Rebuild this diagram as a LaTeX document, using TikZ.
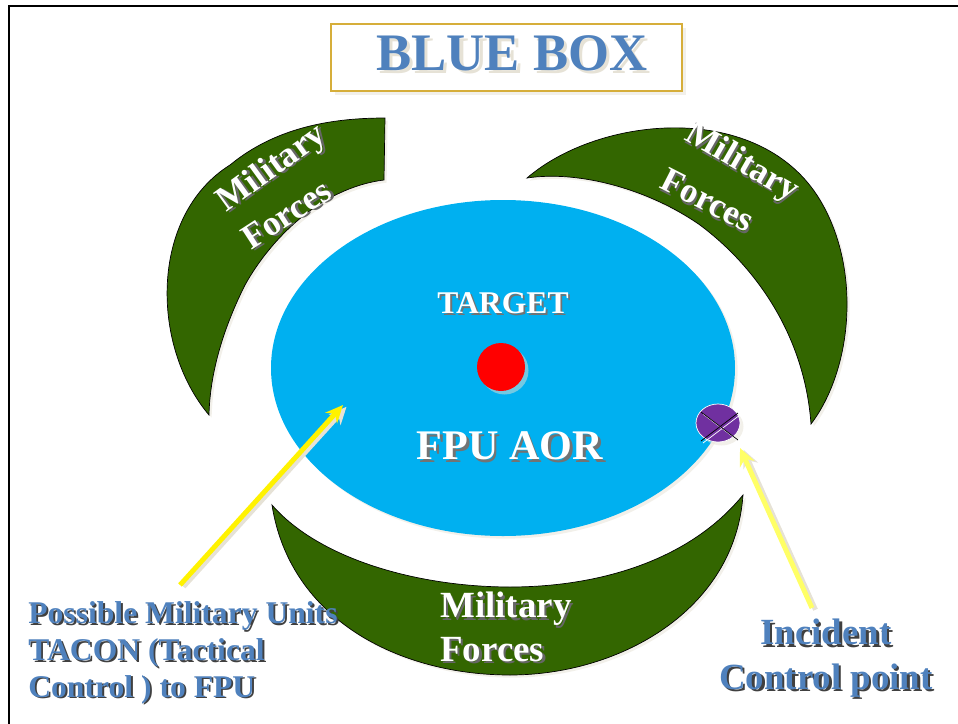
\documentclass[tikz,border=0pt]{standalone}
\usepackage{fontspec}
\setmainfont{Liberation Serif}
\usetikzlibrary{arrows.meta,shadows}

\definecolor{armygreen}{HTML}{336600}
\definecolor{aorblue}{HTML}{00B0F0}
\definecolor{titleblue}{HTML}{4F81BD}
\definecolor{boxgold}{HTML}{D6AE3A}
\definecolor{icpviolet}{HTML}{7030A0}
\definecolor{paleyellow}{HTML}{FFFF66}
\definecolor{shadebeige}{HTML}{E6E2D6}

% text with a small shadow behind it
\newcommand{\shtxt}[2]{\rlap{\textcolor{#1}{\kern0.06em\raisebox{-0.06em}{#2}}}#2}

\begin{document}
\begin{tikzpicture}[x=0.02cm,y=-0.02cm]
\tikzstyle{crescent}=[fill=armygreen,draw=black,thin,drop shadow={shadow xshift=1.5pt,shadow yshift=-1.5pt,fill=shadebeige}]
\tikzstyle{forces}=[text=white,inner sep=0pt,font=\bfseries\fontsize{20}{24}\selectfont]
\tikzstyle{note}=[text=titleblue,inner sep=0pt,font=\bfseries\fontsize{18}{21}\selectfont]
\tikzstyle{pointer}=[line width=2.8pt,-{Stealth[length=10pt,width=9pt]}]
\useasboundingbox (0,0) rectangle (958,724);
\draw[line width=1.3pt] (9,724) -- (9,6) -- (958,6);

% title box
\draw[draw=boxgold,line width=1pt,fill=white,drop shadow={shadow xshift=2pt,shadow yshift=-2pt,fill=shadebeige}] (331,24) rectangle (682,91);
\node[text=titleblue,inner sep=0pt,font=\bfseries\fontsize{30}{36}\selectfont] (title) at (512,55) {\shtxt{shadebeige}{BLUE BOX}};

% military forces around the area
\draw[crescent] (209,415) .. controls (150,345) and (150,215) .. (230,165)
  .. controls (275,128) and (330,118) .. (385,118) -- (384,180)
  .. controls (320,188) and (270,240) .. (245,285)
  .. controls (225,325) and (210,370) .. (209,415) -- cycle;
\draw[crescent] (527,178) .. controls (600,115) and (760,100) .. (820,200)
  .. controls (862,270) and (852,370) .. (811,424)
  .. controls (805,340) and (760,270) .. (700,225)
  .. controls (650,190) and (580,170) .. (527,178) -- cycle;
\draw[crescent] (272,505) .. controls (290,620) and (400,675) .. (510,675)
  .. controls (620,675) and (735,610) .. (743,495)
  .. controls (690,560) and (600,587) .. (510,587)
  .. controls (420,587) and (320,560) .. (272,505) -- cycle;

% area of responsibility
\fill[aorblue,drop shadow={shadow xshift=1.5pt,shadow yshift=-1.5pt,fill=shadebeige}] (503,368) ellipse (232 and 168);
\fill[red,drop shadow={shadow xshift=2pt,shadow yshift=-2pt,fill=shadebeige}] (501,367) circle (24);
\draw[fill=icpviolet,draw=white,drop shadow={shadow xshift=2pt,shadow yshift=-2pt,fill=shadebeige}] (718,423) ellipse (22 and 19);
\draw[white,thin] (703,414) -- (740,442);
\draw[white,thin] (703,443) -- (740,415);
\draw[black,thin] (701,412) -- (738,440);
\draw[black,thin] (701,441) -- (738,413);

\node[text=white,inner sep=0pt,font=\bfseries\fontsize{18}{22}\selectfont] (target) at (503,304) {\shtxt{black!55}{TARGET}};
\node[text=white,inner sep=0pt,font=\bfseries\fontsize{24}{28}\selectfont] (aor) at (510,447) {\shtxt{black!55}{FPU AOR}};

\node[forces,rotate=36] (tlmil) at (273,170) {\shtxt{black!60}{Military}};
\node[forces,rotate=33] (tlfor) at (287,215) {\shtxt{black!60}{Forces}};
\node[forces,rotate=-30] (trmil) at (741,164) {\shtxt{black!60}{Military}};
\node[forces,rotate=-27] (trfor) at (707,201) {\shtxt{black!60}{Forces}};
\node[forces,font=\bfseries\fontsize{21}{24.5}\selectfont,align=left,anchor=north west] (btmil) at (440,592) {\shtxt{black!60}{Military}\\\shtxt{black!60}{Forces}};

% pointers
\coordinate (unitstail) at (180,585);
\coordinate (unitshead) at (343,405);
\coordinate (icptail) at (812,608);
\coordinate (icphead) at (740,448);
\draw[pointer,shadebeige] ([xshift=2pt,yshift=-1pt]unitstail) -- ([xshift=2pt,yshift=-1pt]unitshead);
\draw[pointer,yellow] (unitstail) -- (unitshead);
\draw[pointer,shadebeige] ([xshift=2pt,yshift=-1pt]icptail) -- ([xshift=2pt,yshift=-1pt]icphead);
\draw[pointer,paleyellow] (icptail) -- (icphead);

\node[note,align=left,anchor=north west] (units) at (28,601) {\shtxt{black!75}{Possible Military Units}\\\shtxt{black!75}{TACON (Tactical}\\\shtxt{black!75}{Control ) to FPU}};
\node[note,font=\bfseries\fontsize{21}{25.5}\selectfont,align=center,anchor=north] (icp) at (826,619) {\shtxt{black!75}{Incident}\\\shtxt{black!75}{Control point}};
\end{tikzpicture}
\end{document}
